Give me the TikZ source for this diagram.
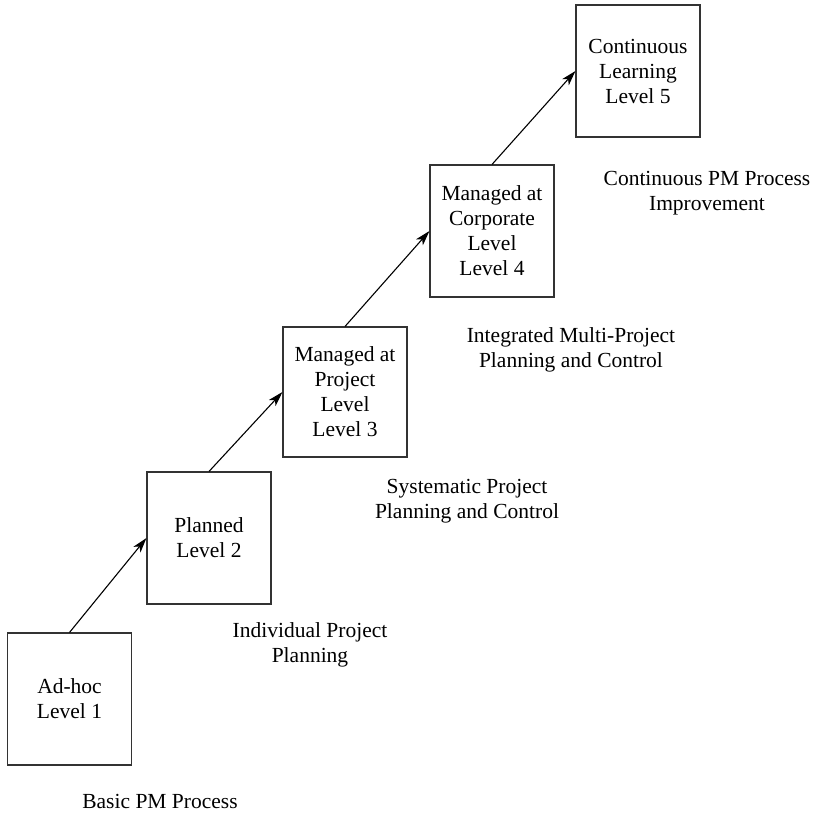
\documentclass[tikz,border=0pt]{standalone}
\usepackage{fontspec}
\setmainfont{Liberation Serif}
\usetikzlibrary{arrows.meta}
\begin{document}
\begin{tikzpicture}[x=1pt,y=-1pt,
  level/.style={draw=black!80,line width=1.1pt,minimum width=124pt,minimum height=132pt,
    inner sep=0pt,align=center,font=\fontsize{21.5}{25}\selectfont},
  caption/.style={inner sep=0pt,align=center,font=\fontsize{21.5}{25}\selectfont},
  stepline/.style={line width=1.1pt,-{Stealth[length=15pt,width=9pt,inset=4pt]}}]
\useasboundingbox (0,0) rectangle (817,815);
% maturity levels
\node[level] (b1) at (69.5,699) {Ad-hoc\\Level 1};
\node[level] (b2) at (209,538) {Planned\\Level 2};
\node[level,minimum height=130pt] (b3) at (345,392) {Managed at\\Project\\Level\\Level 3};
\node[level] (b4) at (492,231) {Managed at\\Corporate\\Level\\Level 4};
\node[level] (b5) at (638,71) {Continuous\\Learning\\Level 5};
% process descriptions
\node[caption] (l1) at (160,801) {Basic PM Process};
\node[caption] (l2) at (310,645) {Individual Project\\Planning};
\node[caption] (l3) at (467,501) {Systematic Project\\Planning and Control};
\node[caption] (l4) at (571,350) {Integrated Multi-Project\\Planning and Control};
\node[caption] (l5) at (707,193) {Continuous PM Process\\Improvement};
% progression arrows
\draw[stepline] (b1.north) -- (b2.west);
\draw[stepline] (b2.north) -- (b3.west);
\draw[stepline] (b3.north) -- (b4.west);
\draw[stepline] (b4.north) -- (b5.west);
\end{tikzpicture}
\end{document}
